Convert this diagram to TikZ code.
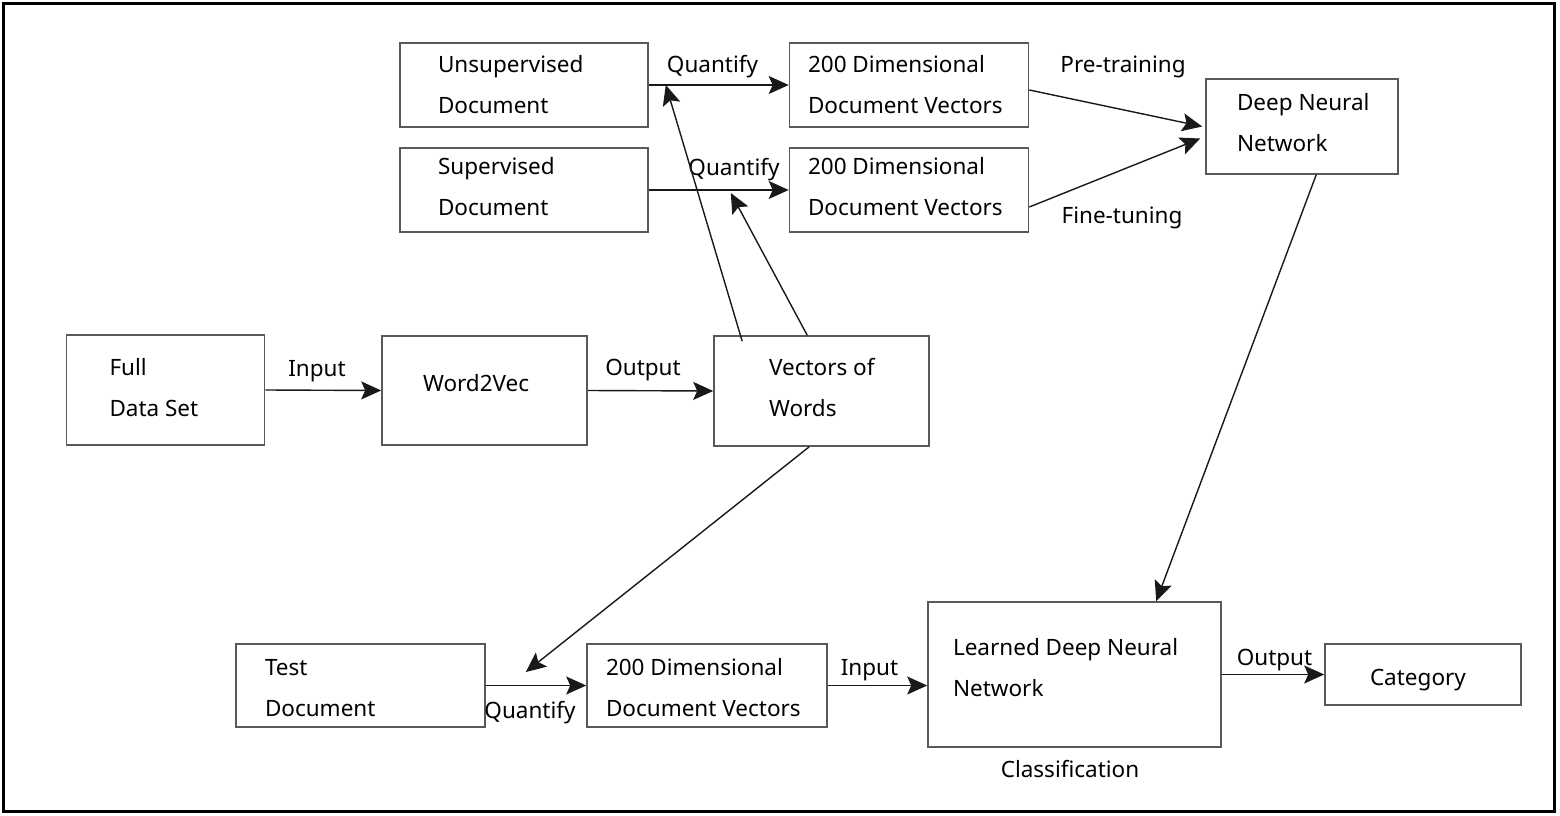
\documentclass[tikz,border=0pt]{standalone}
\usepackage{fontspec}
\setmainfont{Noto Sans}
\usetikzlibrary{arrows.meta,calc}
\definecolor{boxcol}{gray}{0.35}
\definecolor{linecol}{gray}{0.1}
\newcommand\dfont{\fontsize{22.5}{41}\selectfont}
% text block inside a box: width, vertical lift, lines
\newcommand\bt[3]{\makebox[#1][l]{\raisebox{#2}[\height][\depth]{\begin{tabular}{@{}l@{}}#3\end{tabular}}}}
\begin{document}
\begin{tikzpicture}[x=1pt,y=-1pt,
  box/.style={draw=boxcol,line width=1.6pt,rectangle,inner ysep=0pt,font=\dfont},
  conn/.style={draw=linecol,line width=1.4pt,-{Stealth[length=20pt,width=18pt,inset=4pt]}},
  lbl/.style={font=\dfont,inner sep=0pt,anchor=base}]
\useasboundingbox (0,0) rectangle (1560,816);
\draw[line width=3.2pt] (3.5,3.5) rectangle (1554.5,811.5);

% boxes
\node[box,minimum width=248pt,minimum height=84pt,inner xsep=38pt] (u) at (524,85) {\bt{172pt}{0pt}{Unsupervised\\Document}};
\node[box,minimum width=248pt,minimum height=84pt,inner xsep=38pt] (s) at (524,190) {\bt{172pt}{3pt}{Supervised\\Document}};
\node[box,minimum width=239pt,minimum height=84pt,inner xsep=18.5pt] (d1) at (909,85) {\bt{202pt}{0pt}{200 Dimensional\\Document Vectors}};
\node[box,minimum width=239pt,minimum height=84pt,inner xsep=18.5pt] (d2) at (909,190) {\bt{202pt}{3pt}{200 Dimensional\\Document Vectors}};
\node[box,minimum width=192pt,minimum height=95pt,inner xsep=31pt] (dnn) at (1302,126.5) {\bt{130pt}{4pt}{Deep Neural\\Network}};
\node[box,minimum width=198pt,minimum height=110pt,inner xsep=43pt] (full) at (165.5,390) {\bt{112pt}{2pt}{Full\\Data Set}};
\node[box,minimum width=205pt,minimum height=109pt,inner xsep=41pt] (w2v) at (484.5,390.5) {\bt{123pt}{7.7pt}{Word2Vec}};
\node[box,minimum width=215pt,minimum height=110pt,inner xsep=55pt] (vw) at (821.5,391) {\bt{105pt}{3.7pt}{Vectors of\\Words}};
\node[box,minimum width=249pt,minimum height=83pt,inner xsep=29pt] (test) at (360.5,685.5) {\bt{191pt}{-2pt}{Test\\Document}};
\node[box,minimum width=240pt,minimum height=83pt,inner xsep=19pt] (d3) at (707,685.5) {\bt{202pt}{-2pt}{200 Dimensional\\Document Vectors}};
\node[box,minimum width=293pt,minimum height=145pt,inner xsep=25pt] (ldnn) at (1074.5,674.5) {\bt{243pt}{7pt}{Learned Deep Neural\\Network}};
\node[box,minimum width=196pt,minimum height=61pt,inner xsep=45pt] (cat) at (1423,674.5) {\bt{106pt}{-3pt}{Category}};

% edge labels
\node[lbl] (lq1) at (712.5,73) {Quantify};
\node[lbl] (lq2) at (734,175) {Quantify};
\node[lbl] (lpre) at (1123,73) {Pre-training};
\node[lbl] (lfine) at (1122,223) {Fine-tuning};
\node[lbl] (lin1) at (317,376) {Input};
\node[lbl] (lout1) at (643,375) {Output};
\node[lbl] (lq3) at (530,718) {Quantify};
\node[lbl] (lin2) at (869.5,675) {Input};
\node[lbl] (lout2) at (1274.5,665) {Output};
\node[lbl] (lcls) at (1070,777) {Classification};

% helper points
\coordinate (q1) at ($(u.east)+(17,0)$);
\coordinate (q2) at ($(s.east)+(82,3)$);
\coordinate (q3) at ($(test.east)+(40,-13.5)$);

% connectors
\draw[conn] (u.east) -- (d1.west);
\draw[conn] (s.east) -- (d2.west);
\draw[conn] ($(d1.east)+(0,5)$) -- ($(dnn.west)+(-3,0)$);
\draw[conn] ($(d2.east)+(0,17)$) -- ($(dnn.west)+(-5,12)$);
\draw[conn] (full.east) -- (w2v.west);
\draw[conn] (w2v.east) -- (vw.west);
\draw[conn] ($(vw.north west)+(29,6)$) -- (q1);
\draw[conn] ($(vw.north west)+(94,0)$) -- (q2);
\draw[conn] ($(vw.south west)+(96,0)$) -- (q3);
\draw[conn] (test.east) -- (d3.west);
\draw[conn] (d3.east) -- (d3.east -| ldnn.west);
\draw[conn] ($(dnn.south west)+(111,0)$) -- ($(ldnn.north west)+(229,0)$);
\draw[conn] (ldnn.east) -- (cat.west);
\end{tikzpicture}
\end{document}
